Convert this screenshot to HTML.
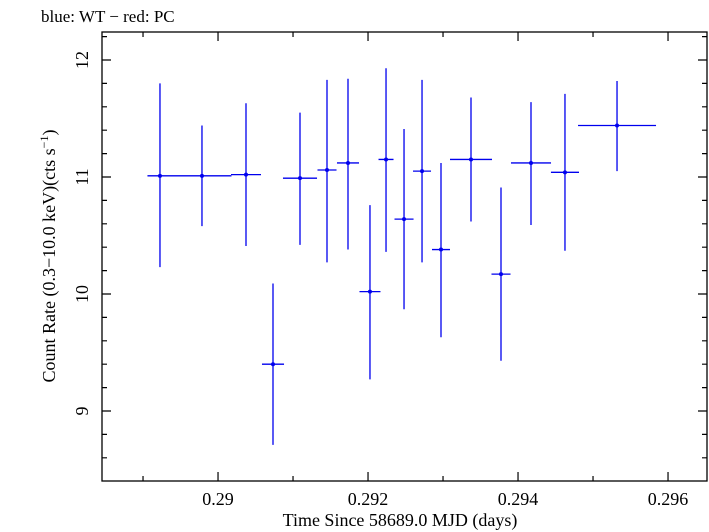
<!DOCTYPE html>
<html><head><meta charset="utf-8"><style>
body{margin:0;background:#fff;overflow:hidden}
svg{display:block;font-family:"Liberation Serif",serif}
</style></head><body>
<svg id="c" width="709" height="532">
<text x="41" y="22" font-size="17">blue: WT − red: PC</text>
<rect x="102" y="32" width="605" height="449" fill="none" stroke="#000" stroke-width="1.3"/>
<g id="ticks"></g>
<g id="marks"></g>
<text x="400" y="526" font-size="18" text-anchor="middle">Time Since 58689.0 MJD (days)</text>
<text transform="translate(55,256) rotate(-90)" font-size="18" text-anchor="middle">Count Rate (0.3−10.0 keV)(cts s<tspan dy="-7" font-size="12">−1</tspan><tspan dy="7">)</tspan></text>
</svg>
<script>
const times=[0.289226,0.289786,0.290373,0.290733,0.291093,0.291453,0.291733,0.292026,0.29224,0.29248,0.29272,0.292973,0.293373,0.293773,0.294173,0.294626,0.29532];
const timeErr=[0.000167,0.000393,0.0002,0.000147,0.000227,0.000127,0.000147,0.00014,0.0001,0.000127,0.00012,0.00012,0.00028,0.000127,0.000267,0.000187,0.00052];
const rates=[11.01,11.01,11.02,9.40,10.99,11.06,11.12,10.02,11.15,10.64,11.05,10.38,11.15,10.17,11.12,11.04,11.44];
const rateLo=[10.23,10.58,10.41,8.71,10.42,10.27,10.38,9.27,10.36,9.87,10.27,9.63,10.62,9.43,10.59,10.37,11.05];
const rateHi=[11.8,11.44,11.63,10.09,11.55,11.83,11.84,10.76,11.93,11.41,11.83,11.12,11.68,10.91,11.64,11.71,11.82];
const xTickLabels=["0.29","0.292","0.294","0.296"];
const yTickLabels=["9","10","11","12"];
const X0=102,X1=707,Y0=481,Y1=32,XMIN=0.288453,XMAX=XMIN+605/75000,YMIN=8.4017,YMAX=12.2393;
const sx=v=>X0+(v-XMIN)/(XMAX-XMIN)*(X1-X0);
const sy=v=>Y0-(v-YMIN)/(YMAX-YMIN)*(Y0-Y1);
const NS="http://www.w3.org/2000/svg";
function mk(tag,attrs,parent){const e=document.createElementNS(NS,tag);for(const k in attrs)e.setAttribute(k,attrs[k]);parent.appendChild(e);return e;}
const tg=document.getElementById('ticks'),mg=document.getElementById('marks');
for(let i=289;i<=296;i++){const v=i/1000,x=sx(v),major=i%2==0,L=major?9:5;
 const t=mk('path',{d:`M${x},${Y0}v${-L}M${x},${Y1}v${L}`,stroke:'#000','stroke-width':1.2},tg);
 
 }
xTickLabels.forEach(s=>{const t=mk('text',{x:sx(parseFloat(s)),y:505,'font-size':18,'text-anchor':'middle'},tg);t.textContent=s;
 
 });
for(let i=86;i<=122;i+=2){const v=i/10,y=sy(v),major=i%10==0,L=major?9:5;
 const t=mk('path',{d:`M${X0},${y}h${L}M${X1},${y}h${-L}`,stroke:'#000','stroke-width':1.2},tg);
 
 }
yTickLabels.forEach(s=>{const y=sy(parseFloat(s));const t=mk('text',{transform:`translate(88,${y}) rotate(-90)`,'font-size':18,'text-anchor':'middle'},tg);t.textContent=s;
 
 });
times.forEach((t,i)=>{const g=mk('g',{},mg);
 
 
 mk('path',{d:`M${sx(t-timeErr[i])},${sy(rates[i])}H${sx(t+timeErr[i])}M${sx(t)},${sy(rateLo[i])}V${sy(rateHi[i])}`,stroke:'#0000ee','stroke-width':1.3,fill:'none'},g);
 mk('circle',{cx:sx(t),cy:sy(rates[i]),r:2,fill:'#0000ee'},g);});
</script>
</body></html>
